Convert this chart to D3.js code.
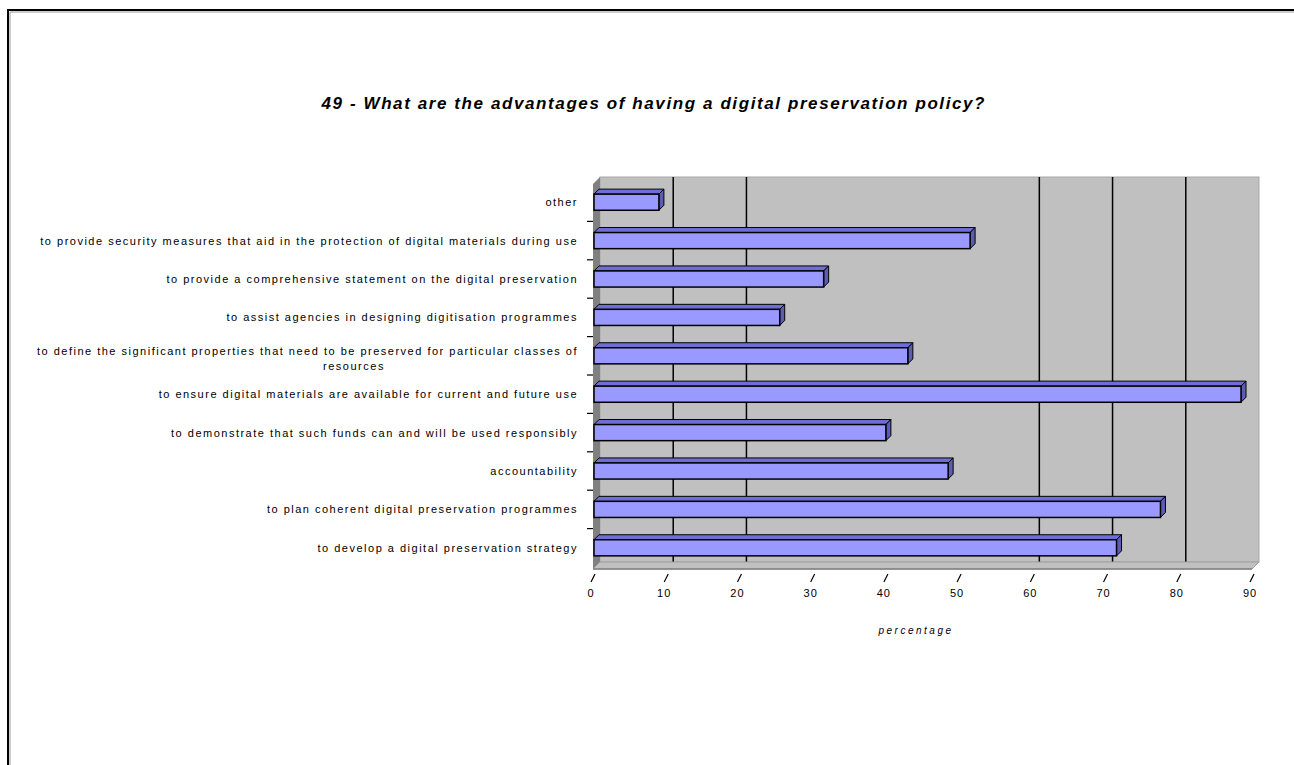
<!DOCTYPE html>
<html><head><meta charset="utf-8">
<script src="https://cdn.jsdelivr.net/npm/d3@7"></script>
<style>html,body{margin:0;padding:0;background:#fff;}svg{display:block;}</style>
</head><body>
<script>
// ---- data ----
const title = "49 - What are the advantages of having a digital preservation policy?";
const xAxisTitle = "percentage";
const categories = [
  "other",
  "to provide security measures that aid in the protection of digital materials during use",
  "to provide a comprehensive statement on the digital preservation",
  "to assist agencies in designing digitisation programmes",
  "to define the significant properties that need to be preserved for particular classes of|resources",
  "to ensure digital materials are available for current and future use",
  "to demonstrate that such funds can and will be used responsibly",
  "accountability",
  "to plan coherent digital preservation programmes",
  "to develop a digital preservation strategy"
];
const values = [9, 51.5, 31.5, 25.5, 43, 88.5, 40, 48.5, 77.5, 71.5];
const xTicks = [0, 10, 20, 30, 40, 50, 60, 70, 80, 90];
const gridValues = [10, 20, 60, 70, 80];

// ---- layout ----
const W = 1294, H = 765;
const svg = d3.select("body").append("svg").attr("width", W).attr("height", H);
const font = "'Liberation Sans', Arial, sans-serif";

// frame
svg.append("path").attr("d", `M8,${H} V10 H${W}`).attr("fill", "none").attr("stroke", "#000").attr("stroke-width", 2);
svg.append("path").attr("d", `M10,${H} V12 H${W}`).attr("fill", "none").attr("stroke", "#999").attr("stroke-width", 1);

const D = 7;          // wall depth
const d = 5;          // bar depth
const plotTop = 184, plotBottom = 569;
const x = d3.scaleLinear().domain([0, 90]).range([593, 1252]);
const y = d3.scaleBand().domain(categories).range([183, 567]).paddingInner(0.58).paddingOuter(0.29);

// back wall
svg.append("rect").attr("x", x(0) + D).attr("y", plotTop - D)
  .attr("width", x(90) - x(0)).attr("height", plotBottom - plotTop)
  .attr("fill", "#c0c0c0").attr("stroke", "#a8a8a8").attr("stroke-width", 1);
// gridlines on back wall
svg.selectAll("line.grid").data(gridValues).enter().append("line")
  .attr("x1", v => x(v) + D).attr("x2", v => x(v) + D)
  .attr("y1", plotTop - D).attr("y2", plotBottom - D)
  .attr("stroke", "#000").attr("stroke-width", 1.5);
// left wall
svg.append("path").attr("d", `M${x(0)},${plotTop} L${x(0)+D},${plotTop-D} L${x(0)+D},${plotBottom-D} L${x(0)},${plotBottom} Z`)
  .attr("fill", "#808080");
// floor
svg.append("path").attr("d", `M${x(0)},${plotBottom} L${x(90)},${plotBottom} L${x(90)+D},${plotBottom-D} L${x(0)+D},${plotBottom-D} Z`)
  .attr("fill", "#c0c0c0").attr("stroke", "#a0a0a0").attr("stroke-width", 1);
svg.append("line").attr("x1", x(0)).attr("x2", x(90)).attr("y1", plotBottom).attr("y2", plotBottom)
  .attr("stroke", "#808080").attr("stroke-width", 1.5);
// floor ticks (slanted)
svg.selectAll("line.xtick").data(xTicks).enter().append("line")
  .attr("x1", v => x(v) - 2).attr("y1", plotBottom + 13)
  .attr("x2", v => x(v) + 2).attr("y2", plotBottom + 5)
  .attr("stroke", "#000").attr("stroke-width", 1.2);
// x tick labels
svg.selectAll("text.xlab").data(xTicks).enter().append("text")
  .attr("x", v => x(v) - 2).attr("y", 597)
  .attr("text-anchor", "middle").attr("font-family", font).attr("font-size", 11)
  .attr("letter-spacing", 1)
  .text(v => v);
// x axis title
svg.append("text").attr("x", 916).attr("y", 634).attr("text-anchor", "middle")
  .attr("font-family", font).attr("font-size", 10).attr("font-style", "italic")
  .attr("letter-spacing", 2.5).text(xAxisTitle);

// category ticks
const step = y.step();
const bounds = d3.range(1, categories.length).map(i => y.range()[0] + i * step);
svg.selectAll("line.ytick").data(bounds).enter().append("line")
  .attr("x1", x(0) - 6).attr("x2", x(0)).attr("y1", b => b).attr("y2", b => b)
  .attr("stroke", "#000").attr("stroke-width", 1.2);

// bars
const bw = y.bandwidth();
const g = svg.append("g");
categories.forEach((c, i) => {
  const x0 = x(0) + 1, x1 = x(values[i]), yt = y(c);
  g.append("path")
    .attr("d", `M${x0},${yt} L${x0+d},${yt-d} L${x1+d},${yt-d} L${x1},${yt} Z`)
    .attr("fill", "#6e6ed8").attr("stroke", "#000").attr("stroke-width", 1);
  g.append("path")
    .attr("d", `M${x1},${yt} L${x1+d},${yt-d} L${x1+d},${yt+bw-d} L${x1},${yt+bw} Z`)
    .attr("fill", "#5c5cb0").attr("stroke", "#000").attr("stroke-width", 1);
  g.append("rect").attr("x", x0).attr("y", yt).attr("width", x1 - x0).attr("height", bw)
    .attr("fill", "#9999ff").attr("stroke", "#000").attr("stroke-width", 1.5);
});

// category labels
categories.forEach((c, i) => {
  const lines = c.split("|");
  const cy = y(c) + bw / 2;
  const lh = 15;
  const t = svg.append("text").attr("font-family", font).attr("font-size", 11)
    .attr("letter-spacing", 1.5).attr("fill", "#000");
  if (lines.length === 1) {
    t.attr("x", 578).attr("y", cy + 4).attr("text-anchor", "end").text(lines[0]);
  } else {
    t.attr("x", 578).attr("y", cy - 1).attr("text-anchor", "end").text(lines[0]);
    svg.append("text").attr("font-family", font).attr("font-size", 11)
      .attr("letter-spacing", 1.5).attr("x", 354).attr("y", cy - 1 + lh)
      .attr("text-anchor", "middle").text(lines[1]);
  }
});

// title
svg.append("text").attr("x", 653).attr("y", 109).attr("text-anchor", "middle")
  .attr("font-family", font).attr("font-size", 17).attr("font-weight", "bold").attr("font-style", "italic")
  .attr("textLength", 663).attr("lengthAdjust", "spacing").text(title);
</script>
</body></html>
